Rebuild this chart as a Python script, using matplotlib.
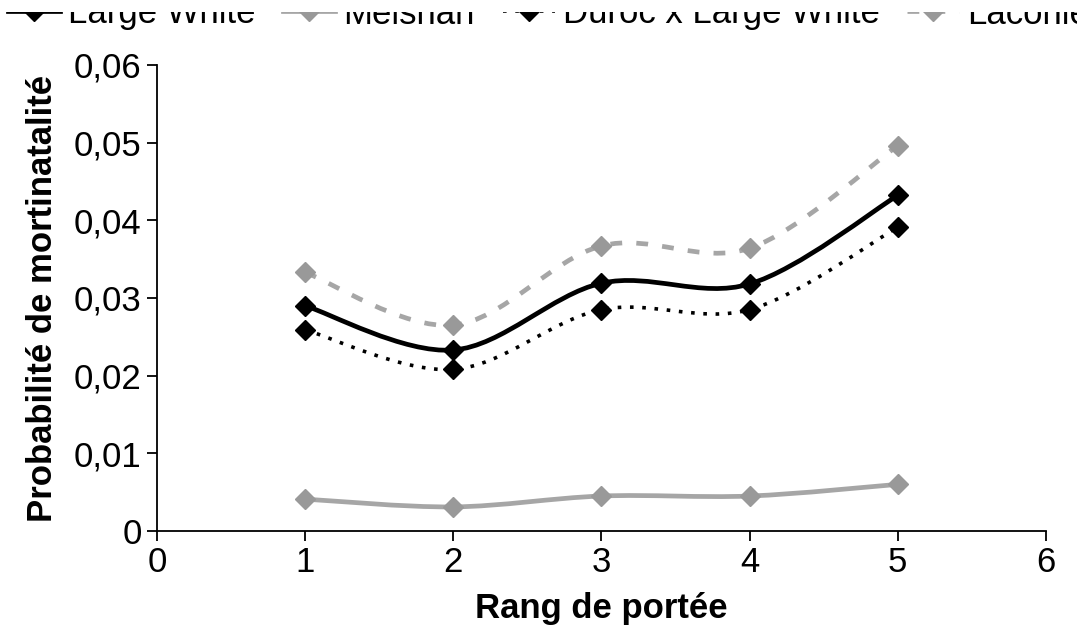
import numpy as np
import matplotlib.pyplot as plt
from matplotlib.path import Path
from matplotlib.patches import PathPatch, Rectangle
from matplotlib.ticker import FuncFormatter

plt.rcParams['font.family'] = ['Liberation Sans', 'DejaVu Sans']

# data
rang = [1, 2, 3, 4, 5]
large_white = [0.0290, 0.0233, 0.0319, 0.0318, 0.0432]
meishan = [0.0041, 0.0031, 0.0045, 0.0045, 0.0060]
duroc_lw = [0.0259, 0.0208, 0.0285, 0.0285, 0.0391]
laconie = [0.0333, 0.0265, 0.0367, 0.0364, 0.0496]

series = [
    ("Large White", large_white, dict(color="black", ls="-", lw=3.4), "black"),
    ("Meishan", meishan, dict(color="#a6a6a6", ls="-", lw=3.4), "#999999"),
    ("Duroc x Large White", duroc_lw, dict(color="black", ls=(0, (1, 2.4)), lw=2.6), "black"),
    ("Laconie", laconie, dict(color="#a6a6a6", ls=(0, (2.5, 3)), lw=3.4), "#999999"),
]


def smooth_path(x, y):
    # Catmull-Rom style bezier, like the smoothed lines of a spreadsheet chart
    p = np.column_stack([x, y]).astype(float)
    verts = [p[0]]
    codes = [Path.MOVETO]
    n = len(p)
    for i in range(n - 1):
        p0 = p[i - 1] if i > 0 else p[i]
        p3 = p[i + 2] if i + 2 < n else p[i + 1]
        c1 = p[i] + (p[i + 1] - p0) / 6
        c2 = p[i + 1] - (p3 - p[i]) / 6
        verts += [c1, c2, p[i + 1]]
        codes += [Path.CURVE4] * 3
    return Path(verts, codes)


fig = plt.figure(figsize=(10.77, 6.34), dpi=100)
ax = fig.add_axes([0.1458, 0.1625, 0.8252, 0.735])

handles = []
for name, vals, style, mcol in series:
    patch = PathPatch(smooth_path(rang, vals), fill=False, edgecolor=style["color"],
                      lw=style["lw"], linestyle=style["ls"], capstyle="butt")
    ax.add_patch(patch)
    ax.plot(rang, vals, ls="none", marker="D", ms=10, color=mcol, zorder=3)
    h, = ax.plot([], [], color=style["color"], ls=style["ls"], lw=style["lw"],
                 marker="D", ms=10, mfc=mcol, mec=mcol)
    handles.append(h)

ax.set_xlim(0, 6)
ax.set_ylim(0, 0.06)
ax.set_xticks(range(0, 7))
ax.set_yticks(np.arange(0, 0.061, 0.01))
ax.yaxis.set_major_formatter(FuncFormatter(
    lambda v, pos: "0" if abs(v) < 1e-9 else f"{v:.2f}".replace(".", ",")))
ax.tick_params(labelsize=25, length=7, width=1.3, direction="out", pad=4)
for s in ["top", "right"]:
    ax.spines[s].set_visible(False)
for s in ["left", "bottom"]:
    ax.spines[s].set_linewidth(1.3)

ax.set_xlabel("Rang de portée", fontsize=25, fontweight="bold", labelpad=9)
ax.set_ylabel("Probabilité de mortinatalité", fontsize=25, fontweight="bold", labelpad=11)

fig.legend(handles, [s[0] for s in series], ncol=4, loc="center left",
           bbox_to_anchor=(8 / 1077, 1 - 14 / 634), frameon=False, fontsize=25,
           handlelength=1.5, columnspacing=0.8, handletextpad=0.23,
           borderaxespad=0, borderpad=0)

# the source image is cropped through the legend: top strip is blank
fig.patches.append(Rectangle((0, 1 - 12 / 634), 1, 12 / 634, transform=fig.transFigure,
                             facecolor="white", edgecolor="none", zorder=10))

fig.savefig("out.png", dpi=100)
